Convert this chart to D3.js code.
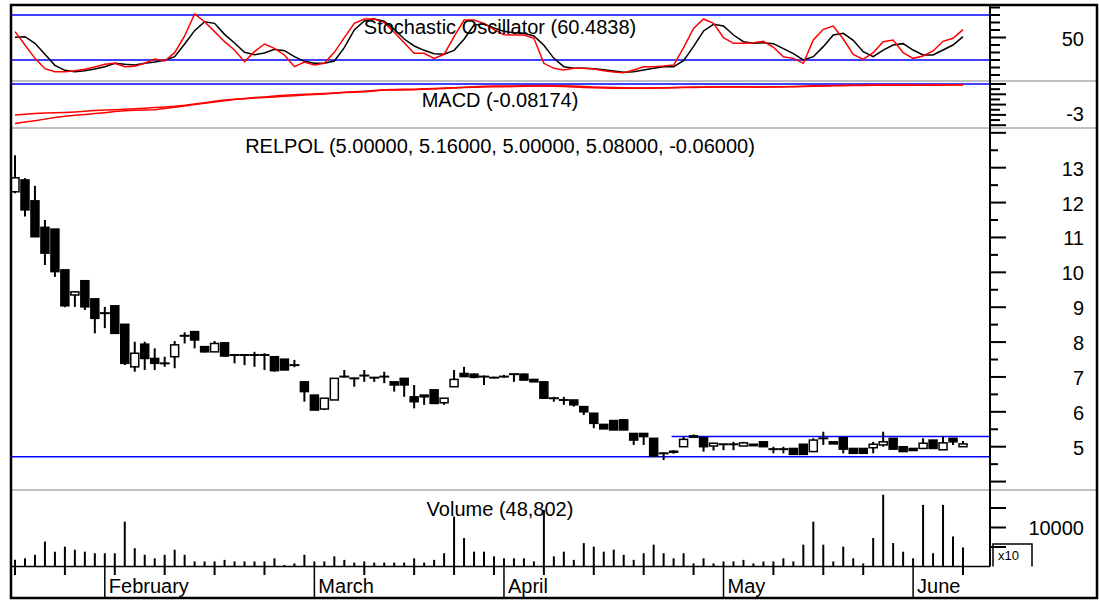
<!DOCTYPE html>
<html>
<head>
<meta charset="utf-8">
<script src="https://cdn.jsdelivr.net/npm/d3@7"></script>
<style>
  body { margin: 0; background: #fff; }
  text { font-family: 'Liberation Sans', Arial, sans-serif; fill: #000; }
</style>
</head>
<body>
<div id="chart"></div>
<script>
// trading calendar (Warsaw exchange, 2008)
const firstDay = '2008-01-21';
const lastDay = '2008-06-09';
const holidays = ['2008-03-21', '2008-03-24', '2008-05-01', '2008-05-02', '2008-05-22'];
const monthNames = ['January', 'February', 'March', 'April', 'May', 'June'];

// RELPOL daily OHLC
const priceOpen = [12.31, 12.65, 12.05, 11.29, 11.24, 10.07, 9.35, 9.76, 9.24, 8.82,
  9.04, 8.51, 7.29, 7.94, 7.53, 7.39, 7.58, 8.18, 8.30, 7.87,
  7.72, 7.98, 7.63, 7.63, 7.63, 7.63, 7.58, 7.51, 7.34, 6.86,
  6.48, 6.08, 6.34, 7.00, 6.96, 7.04, 6.98, 7.01, 6.86, 6.96,
  6.43, 6.48, 6.63, 6.26, 6.72, 7.10, 7.08, 7.01, 6.98, 7.01,
  7.08, 7.08, 6.93, 6.86, 6.39, 6.34, 6.34, 6.15, 5.96, 5.64,
  5.75, 5.77, 5.38, 5.38, 5.24, 4.81, 4.87, 5.00, 5.31, 5.26,
  5.02, 5.07, 5.07, 5.02, 5.07, 5.14, 4.93, 4.93, 4.95, 5.07,
  4.86, 5.24, 5.14, 5.26, 4.95, 4.95, 4.97, 5.05, 5.24, 5.00,
  4.95, 4.95, 5.19, 4.91, 5.24, 5.00];
const priceHigh = [13.36, 12.70, 12.48, 11.50, 11.24, 10.07, 9.45, 9.76, 9.24, 9.01,
  9.04, 8.51, 8.01, 8.01, 7.82, 7.58, 8.03, 8.28, 8.30, 7.87,
  8.03, 8.00, 7.63, 7.63, 7.72, 7.68, 7.60, 7.51, 7.49, 6.86,
  6.48, 6.39, 6.96, 7.20, 6.98, 7.20, 7.00, 7.15, 6.86, 6.96,
  6.77, 6.48, 6.63, 6.39, 7.20, 7.29, 7.10, 7.04, 7.01, 7.06,
  7.10, 7.10, 6.93, 6.86, 6.43, 6.43, 6.34, 6.15, 5.96, 5.64,
  5.75, 5.77, 5.38, 5.38, 5.24, 4.84, 4.90, 5.29, 5.35, 5.26,
  5.10, 5.07, 5.14, 5.14, 5.07, 5.14, 5.00, 5.00, 4.95, 5.07,
  5.24, 5.43, 5.14, 5.26, 4.95, 4.95, 5.14, 5.43, 5.24, 5.00,
  4.95, 5.24, 5.19, 5.31, 5.24, 5.16];
const priceLow = [12.27, 11.60, 11.02, 10.21, 9.87, 9.00, 9.01, 8.92, 8.25, 8.40,
  8.25, 7.34, 7.15, 7.20, 7.20, 7.29, 7.25, 7.96, 7.82, 7.70,
  7.72, 7.58, 7.39, 7.34, 7.29, 7.20, 7.15, 7.20, 7.28, 6.29,
  6.05, 6.05, 6.34, 6.98, 6.72, 6.86, 6.86, 6.82, 6.58, 6.43,
  6.10, 6.20, 6.24, 6.20, 6.72, 7.01, 6.96, 6.77, 6.96, 6.98,
  6.86, 6.91, 6.86, 6.39, 6.29, 6.20, 6.15, 5.91, 5.53, 5.51,
  5.48, 5.48, 5.05, 5.05, 4.73, 4.62, 4.80, 5.00, 5.27, 4.86,
  4.89, 4.90, 4.90, 5.02, 5.03, 5.00, 4.81, 4.81, 4.78, 4.78,
  4.86, 5.05, 5.08, 4.81, 4.81, 4.81, 4.81, 5.00, 4.93, 4.86,
  4.89, 4.95, 4.95, 4.91, 5.05, 5.00];
const priceClose = [12.71, 11.79, 11.02, 10.55, 10.02, 9.04, 9.44, 9.01, 8.68, 8.83,
  8.25, 7.39, 7.68, 7.53, 7.39, 7.39, 7.92, 8.18, 8.06, 7.72,
  7.96, 7.60, 7.63, 7.63, 7.63, 7.63, 7.18, 7.20, 7.34, 6.58,
  6.05, 6.39, 6.96, 7.01, 6.96, 7.04, 6.98, 7.01, 6.77, 6.77,
  6.29, 6.43, 6.24, 6.39, 6.93, 7.01, 6.99, 7.01, 6.98, 7.01,
  7.08, 6.91, 6.86, 6.39, 6.39, 6.34, 6.20, 6.00, 5.67, 5.51,
  5.48, 5.48, 5.19, 5.29, 4.73, 4.81, 4.84, 5.21, 5.27, 5.00,
  5.10, 5.07, 5.07, 5.11, 5.03, 5.00, 4.93, 4.93, 4.78, 4.78,
  5.19, 5.24, 5.08, 4.93, 4.81, 4.81, 5.07, 5.14, 4.93, 4.86,
  4.89, 5.10, 4.95, 5.11, 5.14, 5.08];

const volume = [17000, 21000, 30000, 64000, 38000, 51000, 43000, 38000, 34000, 34000,
  34000, 115000, 47000, 30000, 21000, 30000, 43000, 30000, 13000, 13000,
  13000, 17000, 13000, 13000, 13000, 13000, 21000, 4000, 8000, 30000,
  13000, 13000, 26000, 17000, 10000, 13000, 10000, 10000, 10000, 10000,
  21000, 10000, 17000, 34000, 128000, 73000, 38000, 38000, 26000, 21000,
  21000, 21000, 13000, 145000, 26000, 38000, 17000, 60000, 51000, 38000,
  43000, 30000, 17000, 34000, 56000, 34000, 21000, 34000, 8000, 21000,
  8000, 13000, 13000, 17000, 8000, 13000, 13000, 21000, 13000, 56000,
  115000, 56000, 13000, 51000, 21000, 8000, 73000, 184000, 60000, 38000,
  21000, 158000, 34000, 158000, 77000, 48802];

// stochastic %K (red) and %D (black)
const stochK = [57.8, 40, 22.2, 8.4, 4.4, 4.4, 5.8, 7.6, 10.7, 14.2,
  15.6, 11.1, 11.6, 15.6, 21.3, 18.7, 29.8, 52, 81.3, 71,
  57.8, 44.4, 33.3, 17.8, 31.1, 41.3, 35.6, 26.7, 11.1, 17.3,
  13.3, 15.6, 30.2, 49.8, 68.9, 74.7, 74.7, 69.8, 56.9, 43.1,
  28.9, 28.9, 22.2, 27.6, 51.1, 73.3, 73.3, 68.9, 60.4, 53.8,
  53.3, 53.3, 48.9, 15.6, 8.9, 6.7, 8.9, 8.9, 8, 5.8,
  4, 3.1, 6.7, 11.1, 11.1, 12, 13.3, 36.4, 62.2, 74.7,
  68.9, 49.8, 42.2, 42.2, 43.1, 44.9, 36.9, 24.4, 22.2, 15.6,
  46.7, 60.9, 65.3, 48, 27.6, 20.9, 29.8, 44.4, 46.7, 29.8,
  22.2, 25.3, 32, 44.9, 48.9, 60.4838];
const stochD = [50.2, 51.1, 42.2, 27.6, 12.9, 6.2, 4.4, 5.8, 8, 11.1,
  15.6, 14.2, 13.3, 15.6, 17.3, 19.6, 24.4, 41.3, 59.1, 71.1,
  68.9, 54.2, 42.7, 30.2, 27.1, 29.3, 34.2, 32.4, 24.4, 18.2,
  15.6, 15.6, 18.7, 36.4, 60, 72, 74.7, 71.6, 60.9, 48,
  38.7, 32.9, 28.4, 27.6, 32.9, 47.6, 66.7, 68, 62.7, 58.2,
  56.4, 55.6, 52, 39.6, 22.2, 11.1, 8.9, 8.9, 8.4, 7.1,
  5.3, 3.6, 4.4, 6.7, 8.9, 11.1, 11.1, 19.1, 38.2, 58.7,
  67.6, 65.3, 53.3, 44.4, 42.2, 43.1, 41.8, 35.1, 28.4, 20,
  24.4, 37.8, 53.3, 55.6, 46.2, 31.1, 24.4, 33.3, 40, 41.8,
  33.3, 26.7, 26.7, 33.3, 40, 51.1];
const stochLevels = [20, 80];

const macdLine = [-3.83, -3.70, -3.56, -3.41, -3.25, -3.13, -3.03, -2.95, -2.87, -2.78,
  -2.67, -2.59, -2.54, -2.52, -2.51, -2.39, -2.26, -2.13, -1.98, -1.86,
  -1.74, -1.62, -1.51, -1.44, -1.37, -1.31, -1.26, -1.20, -1.13, -1.06,
  -1.01, -0.96, -0.90, -0.83, -0.79, -0.75, -0.67, -0.59, -0.58, -0.58,
  -0.55, -0.52, -0.48, -0.44, -0.39, -0.34, -0.31, -0.28, -0.26, -0.26,
  -0.25, -0.22, -0.19, -0.17, -0.21, -0.25, -0.29, -0.33, -0.36, -0.39,
  -0.41, -0.42, -0.42, -0.41, -0.39, -0.37, -0.34, -0.31, -0.29, -0.28,
  -0.28, -0.27, -0.27, -0.27, -0.28, -0.28, -0.27, -0.27, -0.24, -0.21,
  -0.18, -0.16, -0.14, -0.13, -0.13, -0.12, -0.10, -0.09, -0.09, -0.10,
  -0.11, -0.11, -0.10, -0.09, -0.08, -0.08174];
const macdSignal = [-3.01, -2.93, -2.86, -2.82, -2.80, -2.76, -2.71, -2.65, -2.58, -2.53,
  -2.49, -2.45, -2.40, -2.35, -2.29, -2.23, -2.17, -2.07, -1.94, -1.81,
  -1.67, -1.56, -1.48, -1.40, -1.32, -1.25, -1.17, -1.10, -1.04, -1.00,
  -0.97, -0.93, -0.87, -0.81, -0.75, -0.70, -0.64, -0.57, -0.53, -0.52,
  -0.50, -0.46, -0.43, -0.40, -0.36, -0.31, -0.27, -0.23, -0.20, -0.19,
  -0.19, -0.18, -0.17, -0.15, -0.16, -0.17, -0.20, -0.24, -0.28, -0.32,
  -0.35, -0.37, -0.38, -0.39, -0.39, -0.38, -0.37, -0.35, -0.33, -0.31,
  -0.30, -0.29, -0.28, -0.28, -0.28, -0.28, -0.28, -0.27, -0.26, -0.24,
  -0.22, -0.19, -0.17, -0.16, -0.15, -0.14, -0.13, -0.12, -0.11, -0.11,
  -0.11, -0.11, -0.11, -0.10, -0.10, -0.09];

// trend lines drawn on the price panel
const supportLevel = 4.71;
const resistanceLevel = 5.29;
const resistanceFrom = 66;

const priceTicks = d3.range(4, 14.01, 0.5);
const priceLabels = [5, 6, 7, 8, 9, 10, 11, 12, 13];
const stochTicks = d3.range(0, 91, 10);
const macdTicks = d3.range(-4, 0.01, 0.5);
const volTicks = [50000, 100000, 150000];

// ---------------------------------------------------------------
const fmt = d3.timeFormat('%Y-%m-%d');
const dates = d3.timeDay.range(new Date(firstDay + 'T00:00'), d3.timeDay.offset(new Date(lastDay + 'T00:00'), 1))
  .filter((d) => d.getDay() !== 0 && d.getDay() !== 6 && !holidays.includes(fmt(d)));

const W = 1099, H = 600;
const frameL = 11, frameR = 1097, frameT = 5, frameB = 598, axisX = 990;
const volBase = 566.5;
const fontSize = '20px';

const svg = d3.select('#chart').append('svg').attr('width', W).attr('height', H);

const x = d3.scaleLinear().domain([0, dates.length - 1]).range([15, 963]);
const yS = d3.scaleLinear().domain([20, 80]).range([60, 15]);
const yM = d3.scaleLinear().domain([-3, 0]).range([114.9, 84]);
const yP = d3.scaleLinear().domain([5, 13]).range([446.7, 167.7]);
const yV = d3.scaleLinear().domain([0, 100000]).range([volBase, 527.5]);

const idx = d3.range(dates.length);

// panel separators
[81, 128, 490].forEach((y) => {
  svg.append('line').attr('x1', frameL).attr('x2', frameR).attr('y1', y).attr('y2', y)
    .attr('stroke', '#808080').attr('stroke-width', 1);
});

const hline = (y, x1, x2) => svg.append('line')
  .attr('x1', x1).attr('x2', x2).attr('y1', y).attr('y2', y)
  .attr('stroke', '#0000ff').attr('stroke-width', 1.5);

// stochastic
stochLevels.forEach((v) => hline(yS(v), frameL, axisX));
const stochLine = (arr) => d3.line().x((i) => x(i)).y((i) => yS(arr[i]));
svg.append('path').datum(idx).attr('fill', 'none').attr('stroke', '#000')
  .attr('stroke-width', 1.5).attr('d', stochLine(stochD));
svg.append('path').datum(idx).attr('fill', 'none').attr('stroke', '#ff0000')
  .attr('stroke-width', 1.5).attr('d', stochLine(stochK));

// MACD
hline(yM(0), frameL, axisX);
[macdSignal, macdLine].forEach((arr) => {
  svg.append('path').datum(idx).attr('fill', 'none').attr('stroke', '#ff0000')
    .attr('stroke-width', 1.5)
    .attr('d', d3.line().x((i) => x(i)).y((i) => yM(arr[i])));
});

// price trend lines
hline(yP(supportLevel), frameL, axisX);
hline(yP(resistanceLevel), x(resistanceFrom) - 2, axisX);

// candles
const candles = svg.append('g');
candles.selectAll('line.wick').data(idx).enter().append('line')
  .attr('x1', (i) => x(i)).attr('x2', (i) => x(i))
  .attr('y1', (i) => yP(priceHigh[i])).attr('y2', (i) => yP(priceLow[i]))
  .attr('stroke', '#000').attr('stroke-width', 2);

const isDoji = (i) => Math.abs(priceClose[i] - priceOpen[i]) < 0.02;

candles.selectAll('rect.body').data(idx.filter((i) => !isDoji(i))).enter().append('rect')
  .attr('x', (i) => x(i) - 4)
  .attr('y', (i) => yP(Math.max(priceOpen[i], priceClose[i])))
  .attr('width', 8)
  .attr('height', (i) => Math.abs(yP(priceOpen[i]) - yP(priceClose[i])))
  .attr('fill', (i) => (priceClose[i] > priceOpen[i] ? '#fff' : '#000'))
  .attr('stroke', '#000').attr('stroke-width', 1.5);

candles.selectAll('line.doji').data(idx.filter(isDoji)).enter().append('line')
  .attr('x1', (i) => x(i) - 5).attr('x2', (i) => x(i) + 5)
  .attr('y1', (i) => yP(priceClose[i])).attr('y2', (i) => yP(priceClose[i]))
  .attr('stroke', '#000').attr('stroke-width', 2);

// volume
svg.selectAll('line.vol').data(idx).enter().append('line')
  .attr('x1', (i) => x(i)).attr('x2', (i) => x(i))
  .attr('y1', volBase).attr('y2', (i) => yV(volume[i]))
  .attr('stroke', '#000').attr('stroke-width', 2);

svg.append('line').attr('x1', frameL).attr('x2', axisX).attr('y1', volBase).attr('y2', volBase)
  .attr('stroke', '#000').attr('stroke-width', 1.5);

// week ticks and month lines
idx.forEach((i) => {
  const d = dates[i];
  const prev = dates[i - 1];
  const newWeek = !prev || d3.timeMonday.floor(d) > prev;
  const newMonth = prev && d.getMonth() !== prev.getMonth();
  if (newMonth) {
    svg.append('line').attr('x1', x(i)).attr('x2', x(i)).attr('y1', volBase).attr('y2', frameB)
      .attr('stroke', '#000').attr('stroke-width', 1.5);
    svg.append('text').attr('x', x(i) + 4).attr('y', 593).style('font-size', fontSize)
      .text(monthNames[d.getMonth()]);
  } else if (newWeek) {
    svg.append('line').attr('x1', x(i)).attr('x2', x(i)).attr('y1', volBase).attr('y2', 575)
      .attr('stroke', '#000').attr('stroke-width', 2);
  }
});

// right axis
svg.append('line').attr('x1', axisX).attr('x2', axisX).attr('y1', frameT).attr('y2', volBase)
  .attr('stroke', '#000').attr('stroke-width', 2);

const tick = (y, len) => svg.append('line').attr('x1', axisX).attr('x2', axisX + len)
  .attr('y1', y).attr('y2', y).attr('stroke', '#000').attr('stroke-width', 2);
const label = (y, s) => svg.append('text').attr('x', 1084).attr('y', y)
  .attr('text-anchor', 'end').style('font-size', fontSize).text(s);

stochTicks.forEach((v) => tick(yS(v), v === 50 ? 16 : 10));
label(yS(50) + 8.5, '50');

macdTicks.forEach((v) => tick(yM(v), v % 1 === 0 ? 16 : 10));
label(yM(-3) + 6.5, '-3');

priceTicks.forEach((v) => tick(yP(v), v % 1 === 0 ? 16 : 8));
priceLabels.forEach((v) => label(yP(v) + 8, v));

volTicks.forEach((v) => tick(yV(v), 16));
label(yV(100000) + 7.5, '10000');

// x10 multiplier box
svg.append('path').attr('d', `M${axisX + 3},${volBase} V544 H1032 V${volBase}`)
  .attr('fill', 'none').attr('stroke', '#000').attr('stroke-width', 1.5);
svg.append('text').attr('x', 998).attr('y', 560).style('font-size', '13px').text('x10');

// panel titles
const n = dates.length - 1;
const title = (y, s) => svg.append('text').attr('x', 500).attr('y', y)
  .attr('text-anchor', 'middle').style('font-size', fontSize).text(s);
title(33.5, `Stochastic Oscillator (${stochK[n]})`);
title(106.5, `MACD (${macdLine[n]})`);
title(153, `RELPOL (${[priceOpen[n], priceHigh[n], priceLow[n], priceClose[n], priceClose[n] - priceClose[n - 1]]
  .map((v) => v.toFixed(5)).join(', ')})`);
title(516, `Volume (${d3.format(',')(volume[n])})`);

// outer frame
svg.append('rect').attr('x', frameL).attr('y', frameT).attr('width', frameR - frameL).attr('height', frameB - frameT)
  .attr('fill', 'none').attr('stroke', '#000').attr('stroke-width', 2.5);
</script>
</body>
</html>
